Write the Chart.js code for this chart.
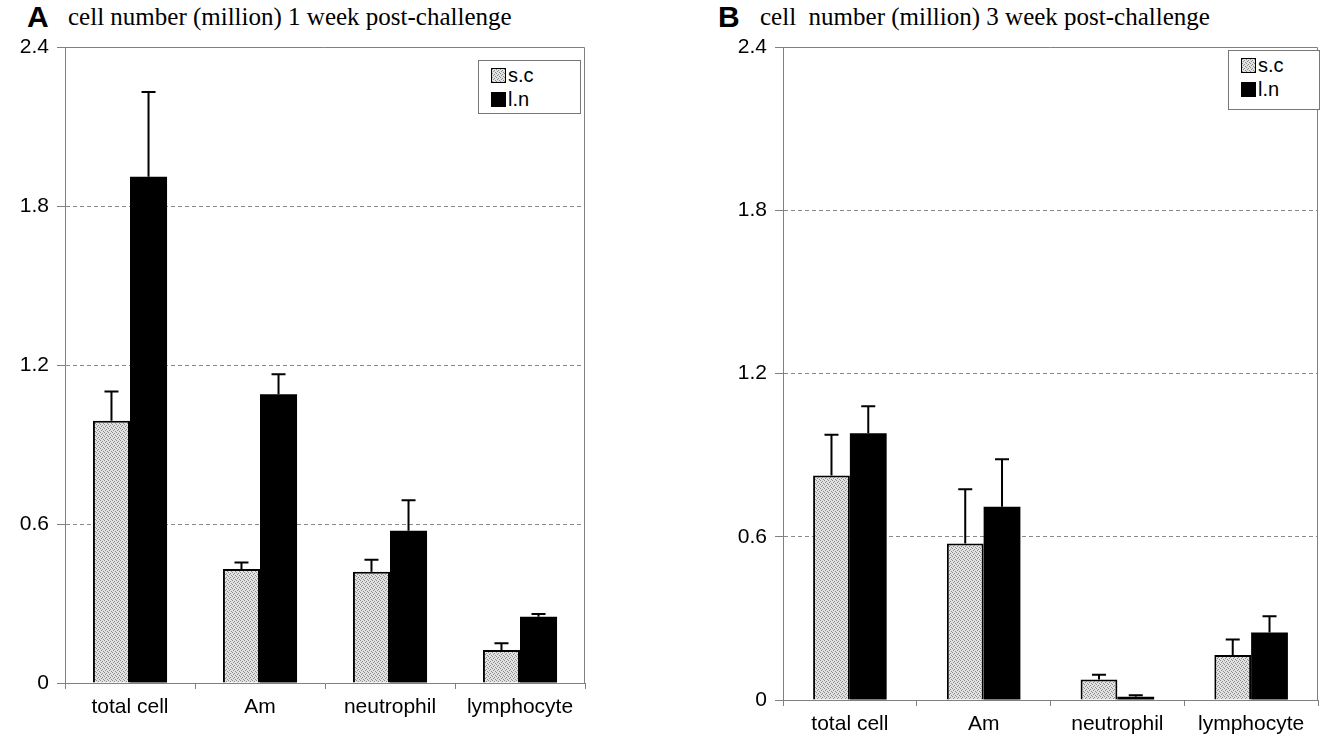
<!DOCTYPE html>
<html>
<head>
<meta charset="utf-8">
<script src="https://cdn.jsdelivr.net/npm/chart.js@4.4.1/dist/chart.umd.min.js"></script>
<style>
  body { margin: 0; background: #fff; width: 1321px; height: 740px; overflow: hidden; position: relative; }
  canvas { position: absolute; top: 0; }
  .letter { position: absolute; top: 0px; font: bold 30px "Liberation Sans", Arial, sans-serif; }
  .title { position: absolute; top: 3px; font: 25px "Liberation Serif", "Times New Roman", serif; white-space: pre; }
  .legend { position: absolute; border: 1px solid #777; background: #fff; font: 20px "Liberation Sans", Arial, sans-serif; }
  .legend div { display: flex; align-items: center; height: 24px; padding-left: 12px; }
  .legend span.sw { display: inline-block; width: 13px; height: 13px; border: 1px solid #000; margin-right: 2px; }
</style>
</head>
<body>
<div class="letter" style="left:27px">A</div>
<div class="title" style="left:68px">cell number (million) 1 week post-challenge</div>
<div class="letter" style="left:718px">B</div>
<div class="title" style="left:760px">cell  number (million) 3 week post-challenge</div>

<canvas id="chartA" width="600" height="740" style="left:0"></canvas>
<canvas id="chartB" width="621" height="740" style="left:700px"></canvas>

<div class="legend" id="legendA" style="left:478px;top:60px;width:101px;height:50px"></div>
<div class="legend" id="legendB" style="left:1228px;top:50px;width:90px;height:56px"></div>

<script>
const categories = ['total cell', 'Am', 'neutrophil', 'lymphocyte'];
const seriesNames = ['s.c', 'l.n'];
const yTicks = [0, 0.6, 1.2, 1.8, 2.4];

// week 1 (panel A): bar heights and upper error bar sizes
const week1Sc = [0.99, 0.43, 0.42, 0.125];
const week1ScErr = [0.11, 0.025, 0.045, 0.025];
const week1Ln = [1.91, 1.09, 0.575, 0.25];
const week1LnErr = [0.32, 0.075, 0.115, 0.01];

// week 3 (panel B)
const week3Sc = [0.825, 0.575, 0.075, 0.165];
const week3ScErr = [0.15, 0.2, 0.018, 0.057];
const week3Ln = [0.98, 0.71, 0.012, 0.248];
const week3LnErr = [0.1, 0.175, 0.005, 0.06];

Chart.defaults.font.family = '"Liberation Sans", Arial, sans-serif';
Chart.defaults.color = '#000';

// stippled grey fill like the scanned figure
function makePattern() {
  const c = document.createElement('canvas');
  c.width = 4; c.height = 4;
  const g = c.getContext('2d');
  g.fillStyle = '#e2e2e2'; g.fillRect(0, 0, 4, 4);
  g.fillStyle = '#8c8c8c';
  g.fillRect(0, 0, 1, 1); g.fillRect(2, 1, 1, 1); g.fillRect(1, 2, 1, 1); g.fillRect(3, 3, 1, 1);
  return { pattern: g.createPattern(c, 'repeat'), url: c.toDataURL() };
}
const stipple = makePattern();

const errorBars = {
  id: 'errorBars',
  afterDatasetsDraw(chart) {
    const { ctx, scales: { y } } = chart;
    ctx.save();
    ctx.strokeStyle = '#000';
    ctx.lineWidth = 2;
    chart.data.datasets.forEach((ds, i) => {
      chart.getDatasetMeta(i).data.forEach((bar, j) => {
        const top = y.getPixelForValue(ds.data[j] + ds.errors[j]);
        ctx.beginPath();
        ctx.moveTo(bar.x, bar.y); ctx.lineTo(bar.x, top);
        ctx.moveTo(bar.x - 7, top); ctx.lineTo(bar.x + 7, top);
        ctx.stroke();
      });
    });
    ctx.restore();
  }
};

// top and right edges of the plot frame
const frame = {
  id: 'frame',
  afterDraw(chart) {
    const { ctx, chartArea: a } = chart;
    ctx.save();
    ctx.strokeStyle = '#808080'; ctx.lineWidth = 1;
    ctx.beginPath();
    ctx.moveTo(a.left, a.top + 0.5); ctx.lineTo(a.right - 0.5, a.top + 0.5); ctx.lineTo(a.right - 0.5, a.bottom);
    ctx.stroke();
    ctx.restore();
  }
};

function makeChart(id, sc, scErr, ln, lnErr, yWidth, xHeight, padRight, catPct) {
  return new Chart(document.getElementById(id), {
    type: 'bar',
    data: {
      labels: categories,
      datasets: [
        { label: seriesNames[0], data: sc, errors: scErr, backgroundColor: stipple.pattern, borderColor: '#000', borderWidth: 2 },
        { label: seriesNames[1], data: ln, errors: lnErr, backgroundColor: '#000', borderColor: '#000', borderWidth: 0 }
      ]
    },
    options: {
      responsive: false,
      animation: false,
      layout: { padding: { top: 47, right: padRight, left: 0, bottom: 0 } },
      datasets: { bar: { categoryPercentage: catPct, barPercentage: 1.0 } },
      plugins: { legend: { display: false }, tooltip: { enabled: false } },
      scales: {
        x: {
          afterFit: s => { s.height = xHeight; },
          grid: { drawOnChartArea: false, tickLength: 6, color: '#808080', offset: true },
          border: { color: '#808080', width: 1 },
          ticks: { font: { size: 21 }, padding: 6, maxRotation: 0 }
        },
        y: {
          min: 0, max: 2.4,
          afterFit: s => { s.width = yWidth; },
          afterBuildTicks: s => { s.ticks = yTicks.map(v => ({ value: v })); },
          grid: {
            tickLength: 8,
            tickColor: '#808080',
            color: c => (c.tick && (c.tick.value === 0 || c.tick.value === 2.4)) ? 'rgba(0,0,0,0)' : '#8a8a8a'
          },
          border: { color: '#808080', width: 1, dash: [4, 3] },
          ticks: { font: { size: 21 }, padding: 8, callback: v => v === 0 ? '0' : v.toFixed(1) }
        }
      }
    },
    plugins: [errorBars, frame]
  });
}

makeChart('chartA', week1Sc, week1ScErr, week1Ln, week1LnErr, 65, 57, 15, 0.57);
makeChart('chartB', week3Sc, week3ScErr, week3Ln, week3LnErr, 83, 40, 3, 0.55);

function buildLegend(id) {
  const el = document.getElementById(id);
  const swatches = ['url(' + stipple.url + ')', '#000'];
  el.style.paddingTop = '2px';
  seriesNames.forEach((name, i) => {
    const row = document.createElement('div');
    const sw = document.createElement('span');
    sw.className = 'sw';
    sw.style.background = swatches[i];
    row.appendChild(sw);
    row.appendChild(document.createTextNode(name));
    el.appendChild(row);
  });
}
buildLegend('legendA');
buildLegend('legendB');
</script>
</body>
</html>
